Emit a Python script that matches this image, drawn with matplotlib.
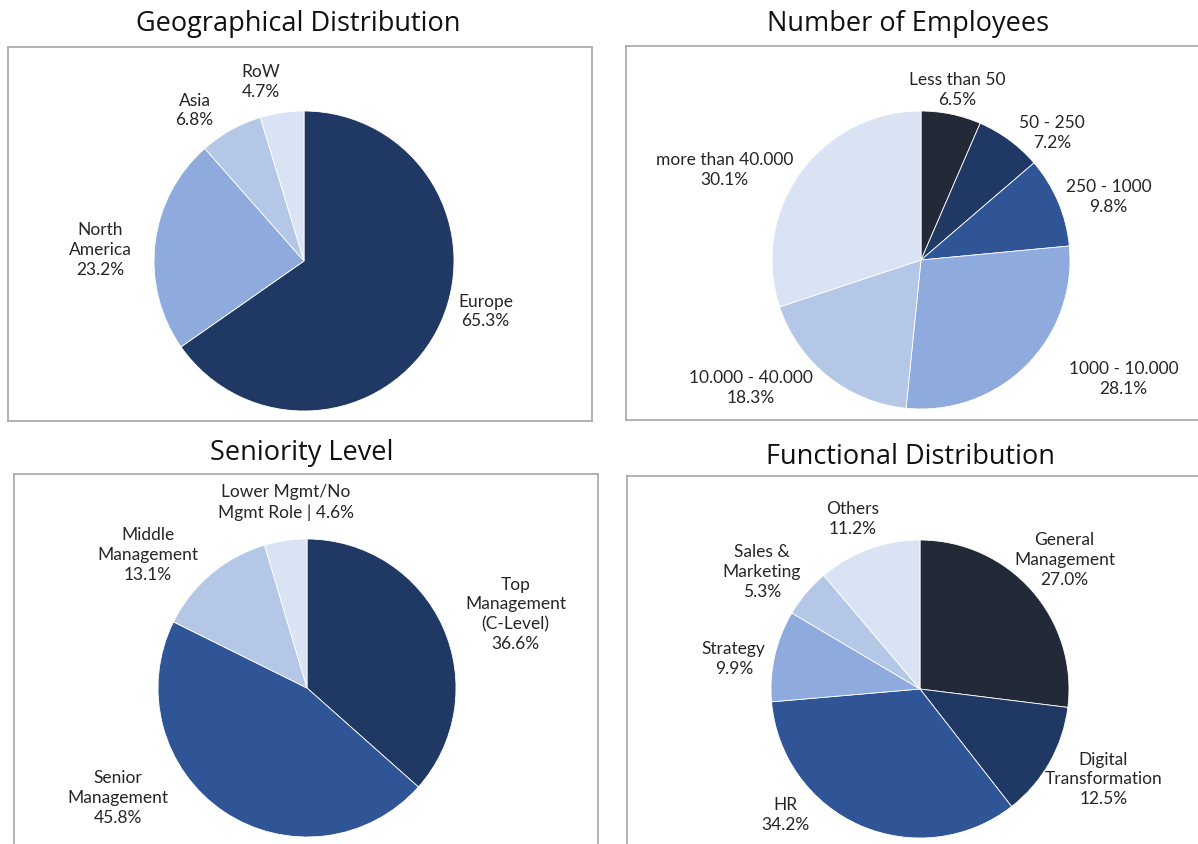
import matplotlib

matplotlib.use("Agg")

import matplotlib.pyplot as plt

W, H = 1198, 845

# data
geo_labels = ["Europe", "North\nAmerica", "Asia", "RoW"]
geo_values = [65.3, 23.2, 6.8, 4.7]

emp_labels = ["Less than 50", "50 - 250", "250 - 1000", "1000 - 10.000",
              "10.000 - 40.000", "more than 40.000"]
emp_values = [6.5, 7.2, 9.8, 28.1, 18.3, 30.1]

sen_labels = ["Top\nManagement\n(C-Level)", "Senior\nManagement",
              "Middle\nManagement", "Lower Mgmt/No\nMgmt Role |"]
sen_values = [36.6, 45.8, 13.1, 4.6]

fun_labels = ["General\nManagement", "Digital\nTransformation", "HR",
              "Strategy", "Sales &\nMarketing", "Others"]
fun_values = [27.0, 12.5, 34.2, 9.9, 5.3, 11.2]

# palette
C_BLACK = "#232a37"
C_NAVY = "#203864"
C_BLUE = "#2f5597"
C_MID = "#8faadc"
C_LIGHT = "#b4c7e7"
C_PALE = "#dae3f3"

TXT = "#262626"
LABEL_FONT = ["Lato", "DejaVu Sans"]
TITLE_FONT = ["Open Sans", "DejaVu Sans"]


def label_text(name, value):
    sep = " " if name.endswith("|") else "\n"
    return f"{name}{sep}{value:.1f}%"


def draw_panel(fig, box, center, r, title, title_xy, labels, values, colors, label_pos):
    # box / center / r in figure pixels, top-left origin
    x0, y0, x1, y1 = box
    cx, cy = center
    ax = fig.add_axes([x0 / W, 1 - y1 / H, (x1 - x0) / W, (y1 - y0) / H])
    ax.pie(values, colors=colors, startangle=90, counterclock=False, radius=1,
           wedgeprops=dict(edgecolor="white", linewidth=0.6), frame=True)
    ax.set_xlim((x0 - cx) / r, (x1 - cx) / r)
    ax.set_ylim((cy - y1) / r, (cy - y0) / r)
    ax.set_aspect("auto")
    ax.set_xticks([])
    ax.set_yticks([])
    for sp in ax.spines.values():
        sp.set_color("#a6a6a6")
        sp.set_linewidth(1.2)
    for name, val, (px, py) in zip(labels, values, label_pos):
        ax.text(px, py, label_text(name, val), ha="center", va="center",
                fontsize=12.5, color=TXT, family=LABEL_FONT, linespacing=1.3)
    fig.text(title_xy[0] / W, 1 - title_xy[1] / H, title, ha="center", va="center",
             fontsize=19.5, color="#111111", family=TITLE_FONT)


fig = plt.figure(figsize=(W / 100, H / 100), dpi=100)

draw_panel(fig, (8, 48, 592, 422), (304, 262), 150, "Geographical Distribution", (298, 24),
           geo_labels, geo_values, [C_NAVY, C_MID, C_LIGHT, C_PALE],
           [(1.21, -0.33), (-1.36, 0.08), (-0.73, 1.01), (-0.29, 1.2)])

draw_panel(fig, (626, 47, 1215, 421), (921, 261), 149, "Number of Employees", (908, 24),
           emp_labels, emp_values, [C_BLACK, C_NAVY, C_BLUE, C_MID, C_LIGHT, C_PALE],
           [(0.24, 1.15), (0.88, 0.86), (1.26, 0.43), (1.36, -0.79),
            (-1.14, -0.85), (-1.32, 0.61)])

draw_panel(fig, (14, 475, 598, 860), (307, 689), 149, "Seniority Level", (302, 453),
           sen_labels, sen_values, [C_NAVY, C_BLUE, C_LIGHT, C_PALE],
           [(1.40, 0.50), (-1.27, -0.73), (-1.07, 0.90), (-0.14, 1.25)])

draw_panel(fig, (627, 477, 1215, 860), (920, 690), 149, "Functional Distribution", (910, 457),
           fun_labels, fun_values, [C_BLACK, C_NAVY, C_BLUE, C_MID, C_LIGHT, C_PALE],
           [(0.97, 0.87), (1.23, -0.60), (-0.90, -0.84), (-1.25, 0.21),
            (-1.06, 0.79), (-0.45, 1.15)])

fig.savefig("out.png", dpi=100, facecolor="white")
